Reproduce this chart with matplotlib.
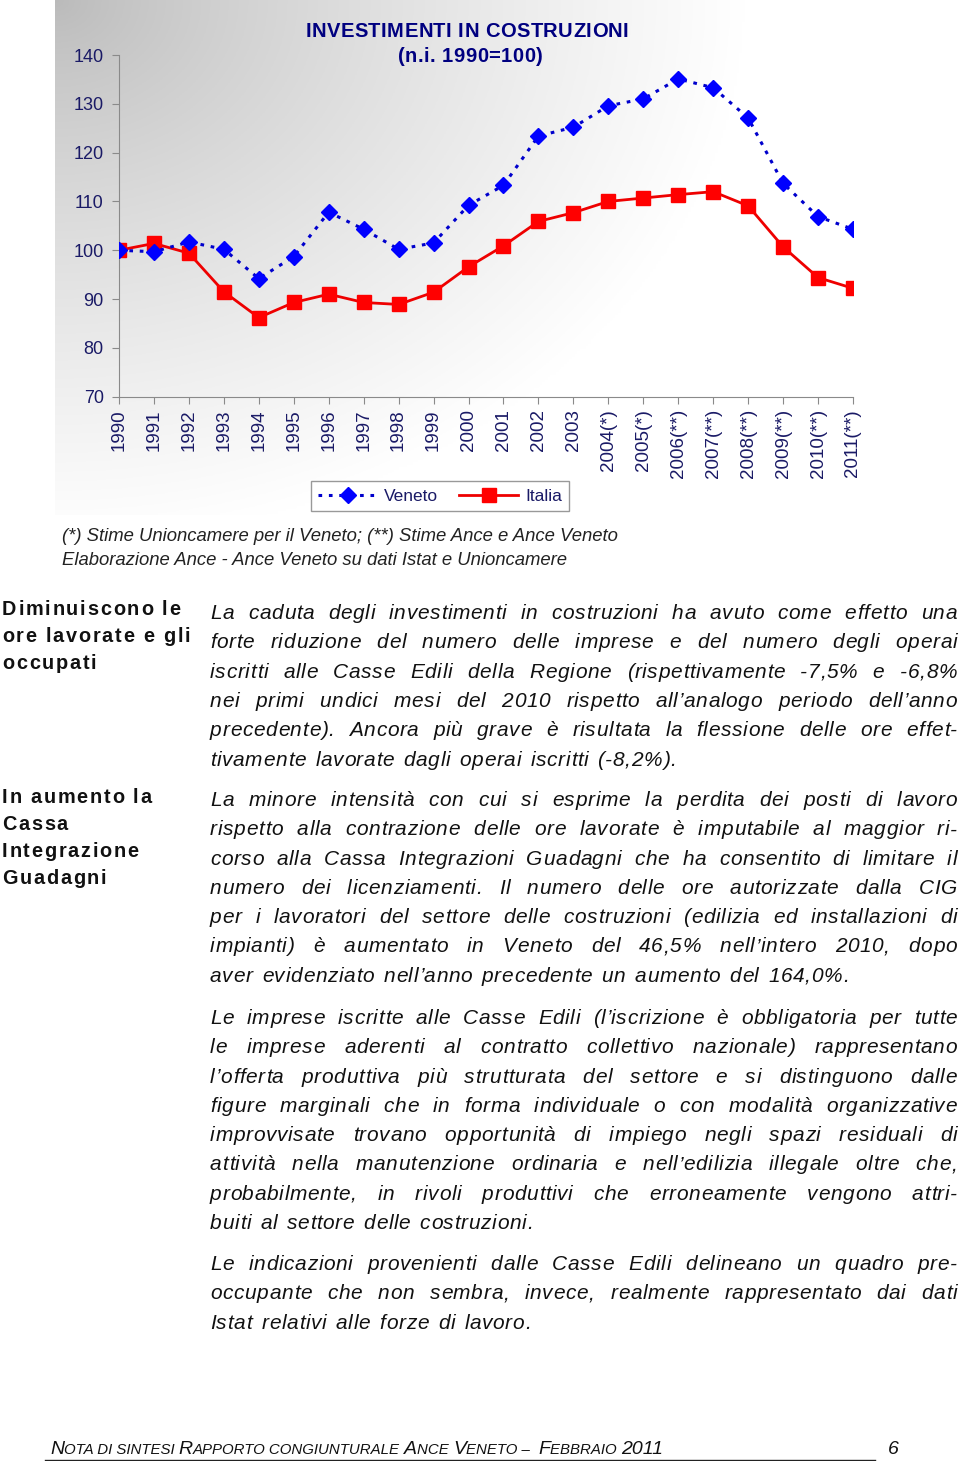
import numpy as np
import matplotlib
matplotlib.use("Agg")
import matplotlib.pyplot as plt
from matplotlib.font_manager import FontProperties, findfont, get_font
from matplotlib.ft2font import LoadFlags

# ---- data ----
years = ["1990", "1991", "1992", "1993", "1994", "1995", "1996", "1997", "1998", "1999",
         "2000", "2001", "2002", "2003", "2004(*)", "2005(*)", "2006(**)", "2007(**)",
         "2008(**)", "2009(**)", "2010(**)", "2011(**)"]
veneto = [100.0, 99.7, 101.7, 100.2, 94.2, 98.7, 107.8, 104.3, 100.2, 101.5,
          109.2, 113.3, 123.4, 125.2, 129.6, 131.0, 135.1, 133.3, 127.1, 113.7, 106.9, 104.3]
italia = [100.0, 101.4, 99.4, 91.5, 86.2, 89.3, 91.0, 89.3, 88.9, 91.4,
          96.6, 100.9, 105.9, 107.7, 110.0, 110.7, 111.4, 112.0, 109.1, 100.7, 94.4, 92.2]
yticks = [70, 80, 90, 100, 110, 120, 130, 140]

title = ["INVESTIMENTI IN COSTRUZIONI", "(n.i. 1990=100)"]
notes = ["(*) Stime Unioncamere per il Veneto; (**) Stime Ance e Ance Veneto",
         "Elaborazione Ance - Ance Veneto su dati Istat e Unioncamere"]

heads = [["Diminuiscono le", "ore lavorate e gli", "occupati"],
         ["In aumento la", "Cassa", "Integrazione", "Guadagni"]]

paras = [
    ["La caduta degli investimenti in costruzioni ha avuto come effetto una",
     "forte riduzione del numero delle imprese e del numero degli operai",
     "iscritti alle Casse Edili della Regione (rispettivamente -7,5% e -6,8%",
     "nei primi undici mesi del 2010 rispetto all\u2019analogo periodo dell\u2019anno",
     "precedente). Ancora più grave è risultata la flessione delle ore effet-",
     "tivamente lavorate dagli operai iscritti (-8,2%)."],
    ["La minore intensità con cui si esprime la perdita dei posti di lavoro",
     "rispetto alla contrazione delle ore lavorate è imputabile al maggior ri-",
     "corso alla Cassa Integrazioni Guadagni che ha consentito di limitare il",
     "numero dei licenziamenti. Il numero delle ore autorizzate dalla CIG",
     "per i lavoratori del settore delle costruzioni (edilizia ed installazioni di",
     "impianti) è aumentato in Veneto del 46,5% nell\u2019intero 2010, dopo",
     "aver evidenziato nell\u2019anno precedente un aumento del 164,0%."],
    ["Le imprese iscritte alle Casse Edili (l\u2019iscrizione è obbligatoria per tutte",
     "le imprese aderenti al contratto collettivo nazionale) rappresentano",
     "l\u2019offerta produttiva più strutturata del settore e si distinguono dalle",
     "figure marginali che in forma individuale o con modalità organizzative",
     "improvvisate trovano opportunità di impiego negli spazi residuali di",
     "attività nella manutenzione ordinaria e nell\u2019edilizia illegale oltre che,",
     "probabilmente, in rivoli produttivi che erroneamente vengono attri-",
     "buiti al settore delle costruzioni."],
    ["Le indicazioni provenienti dalle Casse Edili delineano un quadro pre-",
     "occupante che non sembra, invece, realmente rappresentato dai dati",
     "Istat relativi alle forze di lavoro."],
]
para_top = [613, 800, 1018, 1264]
head_top = [610, 798]

footer = [("N", 1), ("OTA DI SINTESI ", 0), ("R", 1), ("APPORTO CONGIUNTURALE ", 0),
          ("A", 1), ("NCE ", 0), ("V", 1), ("ENETO \u2013  ", 0), ("F", 1),
          ("EBBRAIO ", 0), ("2011", 1)]

W, H = 960, 1461
navy = "#1a1a66"
fam = "Liberation Sans"

fig = plt.figure(figsize=(W / 100, H / 100), dpi=100)
ov = fig.add_axes([0, 0, 1, 1])
ov.set_xlim(0, W)
ov.set_ylim(H, 0)
ov.axis("off")
renderer = fig.canvas.get_renderer()

# gray gradient behind the chart
gx, gy = np.meshgrid(np.linspace(0, 1, 300), np.linspace(0, 1, 200))
d = np.clip(np.sqrt((gx / 0.85) ** 2 + (gy / 1.05) ** 2), 0, 1)
g = 0.73 + 0.27 * d ** 0.8
ov.imshow(np.dstack([g, g, g]), extent=(55, 865, 515, 0), aspect="auto", zorder=0)

# ---- chart ----
ax = fig.add_axes([119 / W, 1 - 396.7 / H, (853 - 119) / W, (396.7 - 55) / H])
ax.patch.set_alpha(0)
x = np.arange(len(years))
ax.plot(x, veneto, color="#0000cc", lw=2.2, ls=(0, (1.2, 2.2)),
        marker="D", ms=8, mfc="#0000ff", mec="#0000ff", label="Veneto", zorder=3)
ax.plot(x, italia, color="#ee0000", lw=2, marker="s", ms=10,
        mfc="#ff0000", mec="#ff0000", label="Italia", zorder=2)
ax.set_xlim(0, len(years) - 1)
ax.set_ylim(70, 140)
ax.set_yticks(yticks)
ax.set_xticks(x)
ax.set_xticklabels(years, rotation=90, va="top", ha="center")
for s in ["top", "right"]:
    ax.spines[s].set_visible(False)
for s in ["left", "bottom"]:
    ax.spines[s].set_color("#8a8a8a")
ax.tick_params(colors="#8a8a8a", length=5, labelcolor=navy, labelsize=13)
ax.tick_params(axis="x", pad=4, labelsize=13.5)
ax.tick_params(axis="y", pad=6)
for t in ax.get_xticklabels() + ax.get_yticklabels():
    t.set_fontfamily(fam)

leg = ax.legend(loc="center", bbox_to_anchor=(440 / W, 1 - 496 / H),
                bbox_transform=fig.transFigure, ncol=2, frameon=True,
                fancybox=False, edgecolor="#999999", framealpha=1,
                prop=FontProperties(family=fam, size=12.5), handlelength=3.4,
                columnspacing=1.2, handletextpad=0.4, borderpad=0.4)
for t in leg.get_texts():
    t.set_color(navy)


# ---- letter-spaced text helpers ----
_adv = {}


def adv(ch, fp):
    key = (ch, fp.get_weight(), fp.get_style(), fp.get_size_in_points())
    if key not in _adv:
        f = get_font(findfont(fp), hinting_factor=1)
        f.set_size(fp.get_size_in_points(), 100)
        _adv[key] = f.load_char(ord(ch), flags=LoadFlags.NO_HINTING).linearHoriAdvance / 65536
    return _adv[key]


def word_w(w_, fp, tr):
    return sum(adv(c, fp) for c in w_) + tr * (len(w_) - 1)


def track_for(s, fp, width):
    return (width - sum(adv(c, fp) for c in s)) / (len(s) - 1)


def draw_str(s, x_, y_, fp, tr, color="#111111", va="baseline"):
    for c in s:
        if c != " ":
            ov.text(x_, y_, c, fontproperties=fp, va=va, color=color)
        x_ += adv(c, fp) + tr
    return x_


# title
title_fp = FontProperties(family=fam, weight="bold", size=14.5)
ttr = track_for(title[0], title_fp, 323)
for i, (s, cx) in enumerate(zip(title, [467, 470])):
    w_ = word_w(s, title_fp, ttr)
    draw_str(s, cx - w_ / 2, 30 + 25 * i + 7, title_fp, ttr, color="#000080")

# notes
note_fp = FontProperties(family=fam, style="italic", size=13.3)
for i, n in enumerate(notes):
    ov.text(62, 536 + 24 * i + 5, n, fontproperties=note_fp, va="baseline",
            color="#222222")

# headings
head_fp = FontProperties(family=fam, weight="bold", size=14.3)
htr = track_for(heads[0][1], head_fp, 188)
for hi, lines in enumerate(heads):
    for j, ln in enumerate(lines):
        draw_str(ln, 2, head_top[hi] + 27 * j + 5, head_fp, htr)

# body paragraphs, justified by word gaps
body_fp = FontProperties(family=fam, style="italic", size=15)
x0, x1 = 210, 957
lh = 29.3
sp = adv(" ", body_fp)
for pi, lines in enumerate(paras):
    for j, ln in enumerate(lines):
        y = para_top[pi] + lh * j + 6
        words = ln.split()
        last = j == len(lines) - 1
        tr = 0.6
        if not last:
            while sum(word_w(w_, body_fp, tr) for w_ in words) + 0.9 * sp * (len(words) - 1) > x1 - x0:
                tr -= 0.05
        ws = [word_w(w_, body_fp, tr) for w_ in words]
        gap = sp * 1.6 if last else (x1 - x0 - sum(ws)) / (len(words) - 1)
        xx = x0
        for w_, wd in zip(words, ws):
            draw_str(w_, xx, y, body_fp, tr)
            xx += wd + gap

# ---- footer ----
xx = 50
for s, big in footer:
    t = ov.text(xx, 1454, s, fontsize=14 if big else 10.8, style="italic",
                family=fam, va="baseline", color="#111111")
    xx += t.get_window_extent(renderer).width
ov.text(888, 1454, "6", fontsize=14, style="italic", family=fam,
        va="baseline", color="#111111")
ov.plot([45, 875], [1460, 1460], color="#222222", lw=1)

fig.savefig("out.png", dpi=100)
